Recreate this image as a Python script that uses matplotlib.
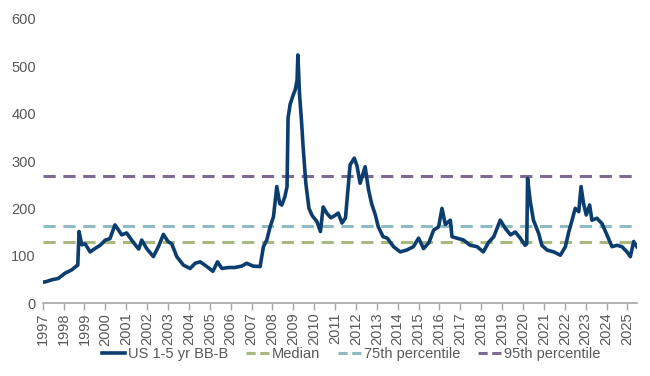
import matplotlib
matplotlib.use("Agg")
import matplotlib.pyplot as plt
from matplotlib.lines import Line2D

plt.rcParams['font.family'] = ['Liberation Sans', 'DejaVu Sans']

years = [1997.0, 1997.15, 1997.43, 1997.75, 1998.07, 1998.39, 1998.58, 1998.68, 1998.74,
         1998.87, 1999.03, 1999.27, 1999.5, 1999.75, 2000.0, 2000.22, 2000.46, 2000.62,
         2000.78, 2001.02, 2001.26, 2001.5, 2001.6, 2001.74, 2001.98, 2002.3, 2002.54,
         2002.78, 2003.0, 2003.18, 2003.42, 2003.74, 2004.06, 2004.3, 2004.54, 2004.86,
         2005.15, 2005.37, 2005.58, 2005.9, 2006.2, 2006.53, 2006.77, 2007.07, 2007.41,
         2007.57, 2007.73, 2007.89, 2008.05, 2008.21, 2008.35, 2008.45, 2008.6, 2008.7,
         2008.75, 2008.85, 2009.0, 2009.09, 2009.18, 2009.22, 2009.3, 2009.4, 2009.47,
         2009.6, 2009.75, 2009.9, 2010.13, 2010.3, 2010.43, 2010.6, 2010.8, 2011.0,
         2011.15, 2011.33, 2011.5, 2011.6, 2011.72, 2011.92, 2012.05, 2012.2, 2012.44,
         2012.6, 2012.75, 2012.93, 2013.07, 2013.3, 2013.5, 2013.8, 2014.12, 2014.44,
         2014.75, 2015.0, 2015.24, 2015.5, 2015.72, 2015.96, 2016.12, 2016.28, 2016.52,
         2016.6, 2016.84, 2017.15, 2017.47, 2017.8, 2018.1, 2018.35, 2018.6, 2018.91,
         2019.15, 2019.4, 2019.63, 2019.87, 2020.1, 2020.18, 2020.22, 2020.35, 2020.5,
         2020.75, 2020.9, 2021.15, 2021.47, 2021.79, 2022.03, 2022.19, 2022.35, 2022.5,
         2022.67, 2022.78, 2022.9, 2023.03, 2023.19, 2023.3, 2023.54, 2023.78, 2024.02,
         2024.26, 2024.5, 2024.74, 2024.98, 2025.14, 2025.3, 2025.45]
spread = [44, 45, 49, 52, 63, 70, 77, 80, 151,
          123, 125, 108, 115, 122, 133, 136, 165, 155,
          144, 148, 133, 119, 114, 133, 115, 98, 119,
          145, 130, 125, 98, 80, 73, 84, 87, 77,
          67, 87, 73, 75, 75, 78, 84, 78, 77,
          119, 133, 161, 182, 246, 210, 207, 225, 246,
          391, 420, 440, 450, 470, 524, 440, 380, 330,
          253, 200, 185, 172, 151, 203, 190, 180, 185,
          190, 169, 180, 230, 292, 306, 290, 253, 288,
          240, 210, 186, 161, 140, 137, 119, 108, 112,
          119, 137, 115, 128, 154, 161, 200, 166, 175,
          140, 137, 133, 122, 119, 108, 128, 140, 175,
          158, 144, 150, 137, 122, 125, 263, 214, 175,
          147, 122, 112, 108, 101, 119, 150, 175, 200,
          193, 246, 210, 186, 207, 175, 179, 168, 144,
          119, 122, 119, 108, 98, 130, 119]

median_val = 129.5
p75_val = 162.5
p95_val = 269
tick_years = list(range(1997, 2026))

fig = plt.figure(figsize=(6.5, 3.76), dpi=100)
ax = fig.add_axes([0.0657, 0.1941, 0.914, 0.7554])

c_line = '#0b3d6e'
c_med = '#a9b87e'
c_75 = '#8fbcc2'
c_95 = '#7d6b94'

ax.axhline(median_val, color=c_med, lw=2.2, ls=(0, (4, 2.5)), zorder=1)
ax.axhline(p75_val, color=c_75, lw=2.2, ls=(0, (4, 2.5)), zorder=1)
ax.axhline(p95_val, color=c_95, lw=2.2, ls=(0, (4, 2.5)), zorder=1)
ax.plot(years, spread, color=c_line, lw=2.6, zorder=3, solid_joinstyle='round')

ax.set_xlim(1997, 2025.45)
ax.set_ylim(0, 600)
ax.set_yticks(range(0, 601, 100))
ax.set_xticks(tick_years)
ax.set_xticklabels([str(y) for y in tick_years], rotation=90)
for s in ['top', 'right', 'left']:
    ax.spines[s].set_visible(False)
ax.spines['bottom'].set_color('#a6a6a6')
ax.spines['bottom'].set_linewidth(1.2)
ax.tick_params(axis='y', length=0, labelsize=10.5, labelcolor='#595959', pad=5)
ax.tick_params(axis='x', length=5, color='#a6a6a6', width=1, labelsize=10.5,
               labelcolor='#595959', pad=2)

handles = [Line2D([], [], color=c_line, lw=2.6),
           Line2D([], [], color=c_med, lw=2.2, ls=(0, (3, 1.5))),
           Line2D([], [], color=c_75, lw=2.2, ls=(0, (3, 1.5))),
           Line2D([], [], color=c_95, lw=2.2, ls=(0, (3, 1.5)))]
labels = ['US 1-5 yr BB-B', 'Median', '75th percentile', '95th percentile']
fig.legend(handles, labels, loc='center', bbox_to_anchor=(0.54, 0.058), ncol=4,
           frameon=False, fontsize=10.5, handlelength=1.6, handletextpad=0.2,
           columnspacing=1.2, labelcolor='#595959')

fig.savefig('out.png', dpi=100)
